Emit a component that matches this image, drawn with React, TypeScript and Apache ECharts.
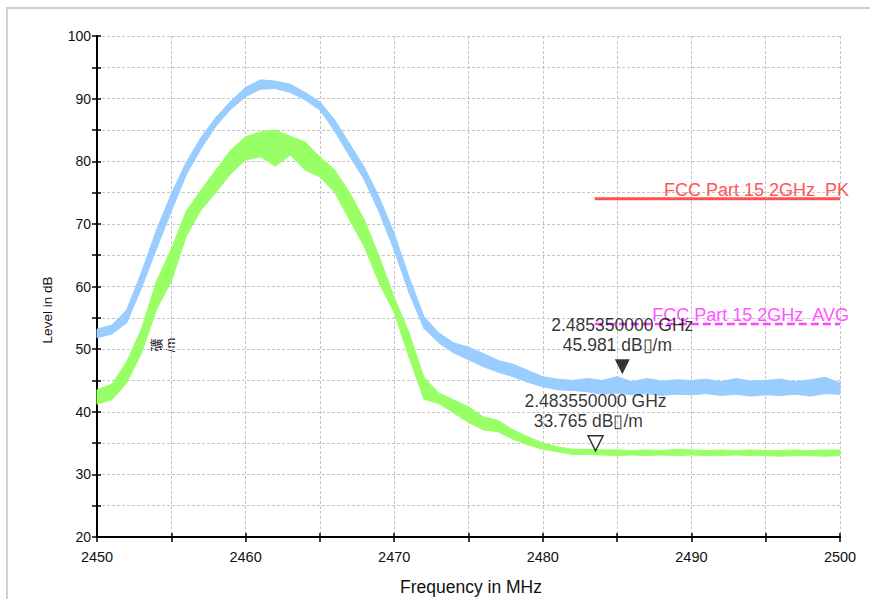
import React, { useEffect, useRef } from 'react';
import * as echarts from 'echarts';

const freqMHz = [
  2450, 2451, 2452, 2453, 2454, 2455, 2456, 2457, 2458, 2459,
  2460, 2461, 2462, 2463, 2464, 2465, 2466, 2467, 2468, 2469,
  2470, 2471, 2472, 2473, 2474, 2475, 2476, 2477, 2478, 2479,
  2480, 2481, 2482, 2483, 2484, 2485, 2486, 2487, 2488, 2489,
  2490, 2491, 2492, 2493, 2494, 2495, 2496, 2497, 2498, 2499, 2500,
];

// Peak trace (light blue): lower and upper edge of the noisy trace
const pkLow = [
  51.8, 52.4, 54.2, 59.8, 66.0, 72.0, 77.8, 82.0, 85.6, 88.3,
  90.3, 91.5, 91.6, 91.0, 89.8, 88.2, 84.8, 80.8, 77.0, 71.8,
  65.8, 59.0, 53.3, 51.0, 49.4, 48.3, 47.2, 46.3, 45.6, 44.7,
  44.0, 43.5, 43.4, 43.2, 42.8, 43.0, 42.7, 42.9, 42.6, 42.8,
  42.7, 42.9, 42.6, 42.8, 42.5, 42.7, 42.6, 42.8, 42.5, 42.9, 42.8,
];
const pkHigh = [
  53.2, 53.8, 56.3, 62.3, 69.0, 74.8, 79.8, 83.8, 87.0, 89.6,
  91.8, 93.0, 92.8, 92.3, 91.0, 89.5, 86.6, 82.8, 79.0, 74.2,
  68.5, 61.5, 55.2, 52.6, 51.0, 50.3, 49.3, 48.2, 47.6, 46.6,
  45.6, 45.2, 45.0, 45.3, 45.0, 45.6, 44.8, 45.3, 44.9, 45.1,
  45.0, 45.2, 44.8, 45.3, 44.9, 45.0, 45.2, 44.8, 45.1, 45.5, 44.6,
];

// Average trace (light green): lower and upper edge
const avLow = [
  41.2, 41.9, 44.6, 49.4, 56.3, 60.8, 68.0, 72.2, 75.0, 78.0,
  80.2, 80.7, 79.2, 81.0, 78.6, 77.5, 75.0, 70.6, 66.3, 60.5,
  55.8, 48.7, 42.0, 41.3, 39.8, 38.3, 37.1, 36.8, 35.6, 34.7,
  34.0, 33.6, 33.2, 33.2, 33.1, 33.0, 33.1, 33.0, 33.1, 33.0,
  33.1, 33.0, 33.0, 33.1, 33.0, 33.0, 32.9, 33.0, 33.0, 32.9, 33.0,
];
const avHigh = [
  43.5, 44.4, 48.0, 53.3, 60.8, 66.0, 72.0, 75.4, 78.6, 81.8,
  83.9, 84.7, 85.0, 84.0, 83.1, 80.7, 78.6, 75.0, 70.6, 64.7,
  58.3, 52.6, 45.5, 43.0, 41.9, 40.8, 39.2, 38.6, 37.1, 36.0,
  35.0, 34.4, 34.0, 34.0, 33.9, 33.9, 33.8, 33.9, 33.8, 34.0,
  33.9, 33.8, 33.9, 33.8, 33.9, 33.8, 33.8, 33.9, 33.8, 33.9, 33.9,
];

const limitFreq = [2483.5, 2500];
const pkLimit = [74, 74];
const avgLimit = [54, 54];
const pkLimitName = 'FCC Part 15 2GHz  PK';
const avgLimitName = 'FCC Part 15 2GHz  AVG';

const markerFreq = [2485.35, 2483.55];
const markerLevel = [45.981, 33.765];
const markerFreqText = ['2.485350000 GHz', '2.483550000 GHz'];
const markerLevelText = ['45.981 dB\u25AF/m', '33.765 dB\u25AF/m'];

const xTickLabels = [2450, 2460, 2470, 2480, 2490, 2500];
const yTickLabels = [20, 30, 40, 50, 60, 70, 80, 90, 100];

const FONT = '"Liberation Sans", Arial, "Noto Sans CJK SC", sans-serif';
const BLUE = '#99ccff';
const GREEN = '#99ff66';

export default function App() {
  const ref = useRef<HTMLDivElement>(null);
  useEffect(() => {
    if (!ref.current) return;
    const chart = echarts.init(ref.current, undefined, { renderer: 'svg' });

    const gridLine = { show: true, lineStyle: { color: '#c4c4c4', type: [3, 2], width: 1 } };

    // Each data item is one segment of the noisy trace: [f0, lo0, hi0, f1, lo1, hi1]
    const bandSeries = (name: string, lo: number[], hi: number[], color: string) => ({
      name, type: 'custom', z: 3, silent: true,
      data: freqMHz.slice(0, -1).map((f, i) => [f, lo[i], hi[i], freqMHz[i + 1], lo[i + 1], hi[i + 1]]),
      encode: { x: [0, 3], y: [1, 2, 4, 5] },
      renderItem: (_params: any, api: any) => {
        const a = api.coord([api.value(0), api.value(2)]);
        const b = api.coord([api.value(3), api.value(5)]);
        const c = api.coord([api.value(3), api.value(4)]);
        const d = api.coord([api.value(0), api.value(1)]);
        return {
          type: 'polygon',
          shape: { points: [a, b, c, d] },
          style: { fill: color, stroke: color, lineWidth: 1 },
        };
      },
    });

    const markerSeries = (i: number, filled: boolean, pad: string) => ({
      type: 'scatter', z: 6,
      data: [[markerFreq[i], markerLevel[i]]],
      symbol: 'triangle', symbolRotate: 180, symbolSize: [15, 15], symbolOffset: [0, '-50%'],
      itemStyle: filled ? { color: '#000' } : { color: '#fff', borderColor: '#000', borderWidth: 1.5 },
      label: {
        show: true, position: 'top', distance: 4,
        formatter: markerFreqText[i] + '\n' + markerLevelText[i] + pad,
        color: '#000', fontSize: 17.5, lineHeight: 20, fontFamily: FONT, align: 'center',
      },
    });

    chart.setOption({
      animation: false,
      backgroundColor: '#fff',
      grid: { left: 97, top: 36, right: 30, bottom: 62 },
      xAxis: [
        {
          type: 'value', min: 2450, max: 2500, interval: 5,
          axisLine: { show: true, lineStyle: { color: '#000', width: 2 } },
          axisTick: { show: true, inside: false, length: 5, lineStyle: { color: '#000', width: 1.5 } },
          axisLabel: {
            margin: 13, color: '#111', fontSize: 14.5, fontFamily: FONT,
            formatter: (v: number) => (xTickLabels.includes(v) ? String(v) : ''),
          },
          splitLine: gridLine,
        },
        {
          type: 'value', min: 2450, max: 2500, interval: 5, position: 'bottom',
          axisLine: { show: false },
          axisTick: { show: true, inside: true, length: 4, lineStyle: { color: '#000', width: 1.5 } },
          axisLabel: { show: false }, splitLine: { show: false },
        },
      ],
      yAxis: [
        {
          type: 'value', min: 20, max: 100, interval: 5,
          axisLine: { show: true, lineStyle: { color: '#000', width: 2 } },
          axisTick: { show: true, inside: false, length: 5, lineStyle: { color: '#000', width: 1.5 } },
          axisLabel: {
            margin: 6, color: '#111', fontSize: 14, fontFamily: FONT,
            formatter: (v: number) => (yTickLabels.includes(v) ? String(v) : ''),
          },
          splitLine: gridLine,
        },
        {
          type: 'value', min: 20, max: 100, interval: 5, position: 'left',
          axisLine: { show: false },
          axisTick: { show: true, inside: true, length: 4, lineStyle: { color: '#000', width: 1.5 } },
          axisLabel: { show: false }, splitLine: { show: false },
        },
      ],
      series: [
        bandSeries('pk', pkLow, pkHigh, BLUE),
        bandSeries('av', avLow, avHigh, GREEN),
        {
          name: pkLimitName, type: 'line', data: limitFreq.map((f, i) => [f, pkLimit[i]]), symbol: 'none', z: 5,
          lineStyle: { color: '#ff5050', width: 3 },
          endLabel: {
            show: true, formatter: pkLimitName, color: '#ff5555', fontSize: 18, fontFamily: FONT,
            align: 'right', verticalAlign: 'bottom', offset: [1, 0],
          },
        },
        {
          name: avgLimitName, type: 'line', data: limitFreq.map((f, i) => [f, avgLimit[i]]), symbol: 'none', z: 5,
          lineStyle: { color: '#ff44ff', width: 2.5, type: [8, 4] },
          endLabel: {
            show: true, formatter: avgLimitName, color: '#ff55ff', fontSize: 18, fontFamily: FONT,
            align: 'right', verticalAlign: 'bottom', offset: [1, 0],
          },
        },
        markerSeries(0, true, '  '),
        markerSeries(1, false, '   '),
      ],
      graphic: [
        {
          type: 'rect', silent: true, z: 0,
          shape: { x: 7, y: 8, width: 1000, height: 800 },
          style: { fill: 'none', stroke: '#cfcfcf', lineWidth: 2 },
        },
        {
          type: 'text', x: 47, y: 310, rotation: Math.PI / 2,
          style: { text: 'Level in dB', fontSize: 13.5, fontFamily: FONT, fill: '#111', align: 'center', verticalAlign: 'middle' },
        },
        {
          type: 'text', x: 471, y: 587,
          style: { text: 'Frequency in MHz', fontSize: 17.5, fontFamily: FONT, fill: '#111', align: 'center', verticalAlign: 'middle' },
        },
        {
          type: 'text', x: 163, y: 345, rotation: Math.PI / 2,
          style: { text: '礦\n/m', fontSize: 13, lineHeight: 14, fontFamily: FONT, fill: '#222', align: 'center', verticalAlign: 'middle' },
        },
      ],
    });
    return () => chart.dispose();
  }, []);
  return <div ref={ref} style={{ position: 'fixed', left: 0, top: 0, width: 870, height: 599 }} />;
}
